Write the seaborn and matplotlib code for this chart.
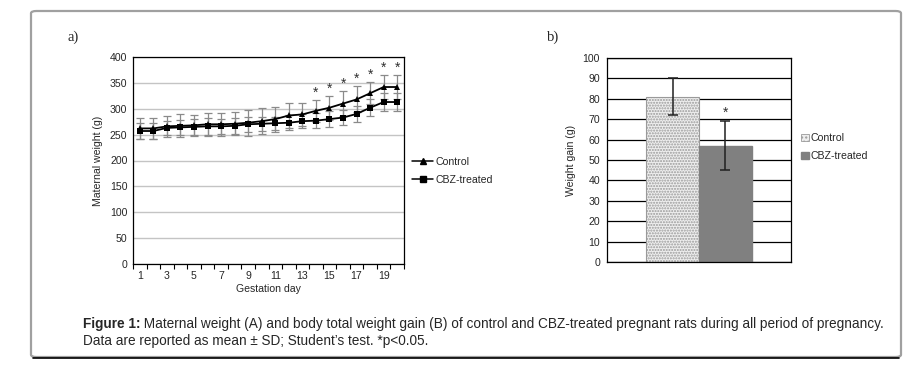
import matplotlib
matplotlib.use("Agg")
import matplotlib.pyplot as plt
from matplotlib import font_manager
from matplotlib.lines import Line2D
from matplotlib.patches import Patch, FancyBboxPatch
from matplotlib.ticker import FixedLocator
import numpy as np
import pandas as pd
import seaborn as sns

# --- data ---
days = list(range(1, 21))
control_mean = [262, 262, 266, 267, 268, 270, 270, 271, 273, 276,
                280, 287, 289, 296, 302, 310, 318, 330, 342, 342]
control_sd = [21, 21, 20, 22, 20, 22, 22, 22, 25, 25,
              24, 25, 23, 21, 23, 24, 25, 21, 24, 24]
cbz_mean = [257, 257, 263, 264, 265, 266, 266, 267, 270, 271,
            272, 273, 276, 277, 280, 283, 290, 302, 313, 313]
cbz_sd = [15, 15, 14, 15, 15, 16, 15, 15, 14, 14,
          13, 15, 13, 14, 15, 15, 15, 16, 18, 18]
star_days = [14, 15, 16, 17, 18, 19, 20]

groups = ["Control", "CBZ-treated"]
gain_mean = [81, 57]
gain_sd = [9, 12]

sns.set_style("white")
names = {f.name for f in font_manager.fontManager.ttflist}
sans = "Liberation Sans" if "Liberation Sans" in names else "DejaVu Sans"
narrow = "Liberation Sans Narrow" if "Liberation Sans Narrow" in names else sans
serif = "Liberation Serif" if "Liberation Serif" in names else "DejaVu Serif"
plt.rcParams["font.family"] = [sans, "DejaVu Sans"]

FS = 7.6  # axis text size

fig = plt.figure(figsize=(9.18, 3.83), dpi=100)
W, H = 918, 383


def px_axes(x0, y0, x1, y1):
    return fig.add_axes([x0 / W, 1 - y1 / H, (x1 - x0) / W, (y1 - y0) / H])


# outer frame
frame = FancyBboxPatch((31 / W, 1 - 357 / H), 870 / W, 346 / H,
                       boxstyle="round,pad=0,rounding_size=0.006",
                       transform=fig.transFigure, facecolor="none",
                       edgecolor="#a0a0a0", linewidth=1.6)
fig.add_artist(frame)
fig.add_artist(Line2D([33 / W, 899 / W], [1 - 358 / H, 1 - 358 / H],
                      transform=fig.transFigure, color="black", lw=1.2))

# ---------------- panel a ----------------
ax1 = px_axes(133, 57, 404, 264)
df = pd.DataFrame({
    "day": days * 2,
    "weight": control_mean + cbz_mean,
    "group": ["Control"] * len(days) + ["CBZ-treated"] * len(days),
})
for mean, sd in ((cbz_mean, cbz_sd), (control_mean, control_sd)):
    ax1.errorbar(days, mean, yerr=sd, fmt="none", ecolor="#8a8a8a",
                 elinewidth=0.9, capsize=2.6, capthick=0.9, zorder=2)
sns.lineplot(data=df, x="day", y="weight", hue="group", style="group",
             markers={"Control": "^", "CBZ-treated": "s"}, dashes=False,
             palette={"Control": "black", "CBZ-treated": "black"},
             markersize=4.2, linewidth=1.3, markeredgewidth=0,
             legend=False, ax=ax1, zorder=3)
for ln in ax1.lines:
    if ln.get_marker() == "s":
        ln.set_markersize(5.0)
for d in star_days:
    i = days.index(d)
    ax1.text(d, control_mean[i] + control_sd[i] + 14, "*", ha="center",
             va="center", fontsize=10, color="#303030")

ax1.set_xlim(0.5, 20.5)
ax1.set_ylim(0, 400)
ax1.set_yticks(range(0, 401, 50))
ax1.yaxis.grid(True, color="#c4c4c4", linewidth=1.0)
ax1.set_axisbelow(True)
ax1.xaxis.set_major_locator(FixedLocator(list(range(1, 21, 2))))
ax1.xaxis.set_minor_locator(FixedLocator(list(np.arange(0.5, 21, 1.0))))
ax1.tick_params(axis="x", which="major", length=0, labelsize=FS, pad=5)
ax1.tick_params(axis="x", which="minor", length=3.5, width=0.8,
                direction="out", color="black", bottom=True)
ax1.tick_params(axis="y", length=0, labelsize=FS, pad=4)
for s in ax1.spines.values():
    s.set_color("black")
    s.set_linewidth(0.9)
ax1.set_xlabel("Gestation day", fontsize=FS, labelpad=2)
ax1.set_ylabel("Maternal weight (g)", fontsize=FS, labelpad=5)

leg1_handles = [
    Line2D([], [], color="black", marker="^", markersize=4, lw=1.1),
    Line2D([], [], color="black", marker="s", markersize=4.5, lw=1.1),
]
fig.legend(leg1_handles, groups, loc="center left",
           bbox_to_anchor=(408 / W, 1 - 171 / H), frameon=False,
           fontsize=FS, handlelength=2.0, handletextpad=0.2,
           labelspacing=0.75, borderaxespad=0)

# ---------------- panel b ----------------
ax2 = px_axes(607, 58, 791, 262)
df2 = pd.DataFrame({"group": groups, "gain": gain_mean})
sns.barplot(data=df2, x="group", y="gain", hue="group",
            palette={"Control": "#eeeeee", "CBZ-treated": "#808080"},
            width=1.0, legend=False, ax=ax2, zorder=2)
ctrl_bar, cbz_bar = ax2.patches[0], ax2.patches[1]
ctrl_bar.set_hatch("......")
ctrl_bar.set_edgecolor("#9a9a9a")
ctrl_bar.set_linewidth(0.8)
cbz_bar.set_edgecolor("#808080")
ax2.errorbar(range(len(groups)), gain_mean, yerr=gain_sd, fmt="none",
             ecolor="#202020", elinewidth=1.1, capsize=3.5, capthick=1.1,
             zorder=3)
ax2.text(1, gain_mean[1] + gain_sd[1] + 4, "*", ha="center", va="center",
         fontsize=10, color="#303030")
ax2.set_xlim(-1.24, 2.24)
ax2.set_ylim(0, 100)
ax2.set_yticks(range(0, 101, 10))
ax2.yaxis.grid(True, color="black", linewidth=0.9)
ax2.set_axisbelow(True)
ax2.set_xticks([])
ax2.set_xlabel("")
ax2.set_ylabel("Weight gain (g)", fontsize=FS, labelpad=5)
ax2.tick_params(axis="y", length=0, labelsize=FS, pad=5)
for s in ax2.spines.values():
    s.set_color("black")
    s.set_linewidth(0.9)

leg2_handles = [
    Patch(facecolor="#eeeeee", edgecolor="#9a9a9a", hatch="....", lw=0.6),
    Patch(facecolor="#808080", edgecolor="#808080"),
]
fig.legend(leg2_handles, groups, loc="center left",
           bbox_to_anchor=(797 / W, 1 - 147 / H), frameon=False,
           fontsize=FS, handlelength=0.7, handleheight=0.7,
           handletextpad=0.2, labelspacing=0.75, borderaxespad=0)

# panel letters
fig.text(68 / W, 1 - 37 / H, "a)", fontsize=10.5, family=serif,
         ha="left", va="center")
fig.text(547 / W, 1 - 37 / H, "b)", fontsize=10.5, family=serif,
         ha="left", va="center")

# caption
cap_bold = "Figure 1:"
cap_rest = (" Maternal weight (A) and body total weight gain (B) of control "
            "and CBZ-treated pregnant rats during all period of pregnancy.")
cap_line2 = "Data are reported as mean \u00b1 SD; Student\u2019s test. *p<0.05."
fs = 8.5
t_b = fig.text(83 / W, 1 - 324 / H, cap_bold, fontsize=fs, family=narrow,
               weight="bold", va="center", ha="left")
t_r = fig.text(0, 1 - 324 / H, cap_rest, fontsize=fs, family=narrow,
               va="center", ha="left")
t_2 = fig.text(83 / W, 1 - 341 / H, cap_line2, fontsize=fs, family=narrow,
               va="center", ha="left")
fig.canvas.draw()
r = fig.canvas.get_renderer()
wb = t_b.get_window_extent(r).width
wr = t_r.get_window_extent(r).width
scale = (882 - 83) / (wb + wr)
for t in (t_b, t_r, t_2):
    t.set_fontsize(fs * scale)
fig.canvas.draw()
wb = t_b.get_window_extent(r).width
t_r.set_x((83 + wb) / W)

fig.savefig("out.png", dpi=100)
